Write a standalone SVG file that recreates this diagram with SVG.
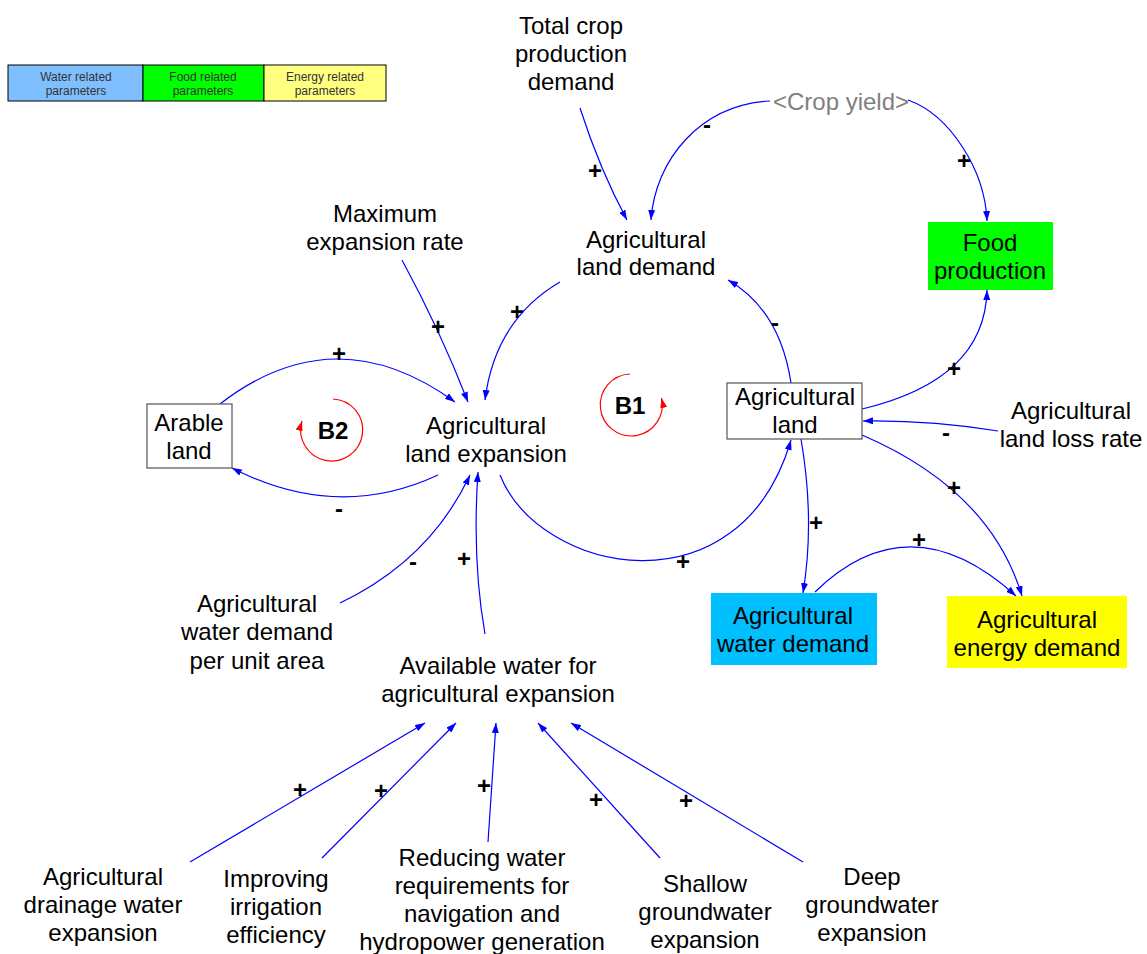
<svg xmlns="http://www.w3.org/2000/svg" width="1147" height="954" viewBox="0 0 1147 954">
<defs>
<marker id="ah" markerUnits="userSpaceOnUse" markerWidth="10" markerHeight="7" refX="10" refY="3.5" orient="auto">
<path d="M0,0 L10,3.5 L0,7 z" fill="#0000ff"/>
</marker>
<marker id="rh" markerUnits="userSpaceOnUse" markerWidth="10" markerHeight="7" refX="10" refY="3.5" orient="auto">
<path d="M0,0 L10,3.5 L0,7 z" fill="#ff0000"/>
</marker>
</defs>
<style>
.t{font-family:"Liberation Sans",Arial,sans-serif;font-size:24px;fill:#000;text-anchor:middle}
.lg{font-family:"Liberation Sans",Arial,sans-serif;font-size:12px;fill:#333;text-anchor:middle}
.s{font-family:"Liberation Sans",Arial,sans-serif;font-size:24px;font-weight:bold;fill:#000;text-anchor:middle}
.b{font-family:"Liberation Sans",Arial,sans-serif;font-size:24px;font-weight:bold;fill:#000;text-anchor:middle}
.c{fill:none;stroke:#0000ff;stroke-width:1.2;marker-end:url(#ah)}
.loop{fill:none;stroke:#ff0000;stroke-width:1.2;marker-end:url(#rh)}
.box{stroke:#555;stroke-width:1.2}
</style>
<rect width="1147" height="954" fill="#fff"/>

<g id="legend">
<rect x="8" y="65" width="135" height="36" fill="#80bfff" stroke="#000" stroke-width="1"/>
<rect x="143" y="65" width="121" height="36" fill="#00ff00" stroke="#000" stroke-width="1"/>
<rect x="264" y="65" width="122" height="36" fill="#ffff80" stroke="#000" stroke-width="1"/>
<text class="lg" x="76" y="81">Water related</text><text class="lg" x="76" y="95">parameters</text>
<text class="lg" x="203" y="81">Food related</text><text class="lg" x="203" y="95">parameters</text>
<text class="lg" x="325" y="81">Energy related</text><text class="lg" x="325" y="95">parameters</text>
</g>

<g id="connectors">
<path class="c" d="M580,108 Q600,170 627,220"/>
<path class="c" d="M770,101 C700,105 655,160 651,220"/>
<path class="c" d="M908,100 C950,115 985,170 987,221"/>
<path class="c" d="M862,409 Q985,380 987,290"/>
<path class="c" d="M791,383 Q780,310 728,280"/>
<path class="c" d="M560,282 Q495,320 485,400"/>
<path class="c" d="M402,260 Q440,330 468,402"/>
<path class="c" d="M220,404 Q335,315 455,402"/>
<path class="c" d="M438,475 Q337,522 232,468"/>
<path class="c" d="M340,603 Q430,560 470,475"/>
<path class="c" d="M485,634 Q472,560 478,472"/>
<path class="c" d="M500,475 C540,575 740,615 791,440"/>
<path class="c" d="M998,431 Q930,420 863,421"/>
<path class="c" d="M801,439 Q815,520 803,593"/>
<path class="c" d="M862,435 Q990,490 1022,596"/>
<path class="c" d="M815,592 Q910,500 1016,596"/>
<path class="c" d="M190,862 L425,723"/>
<path class="c" d="M322,858 L456,723"/>
<path class="c" d="M488,842 L496,723"/>
<path class="c" d="M660,858 L538,723"/>
<path class="c" d="M803,862 L571,723"/>
<text class="s" x="595" y="179">+</text>
<text class="s" x="707" y="133">-</text>
<text class="s" x="964" y="169">+</text>
<text class="s" x="954" y="377">+</text>
<text class="s" x="775" y="331">-</text>
<text class="s" x="517" y="320">+</text>
<text class="s" x="438" y="335">+</text>
<text class="s" x="339" y="362">+</text>
<text class="s" x="339" y="517">-</text>
<text class="s" x="413" y="570">-</text>
<text class="s" x="464" y="567">+</text>
<text class="s" x="683" y="570">+</text>
<text class="s" x="946" y="441">-</text>
<text class="s" x="816" y="531">+</text>
<text class="s" x="954" y="496">+</text>
<text class="s" x="919" y="548">+</text>
<text class="s" x="300" y="798">+</text>
<text class="s" x="381" y="799">+</text>
<text class="s" x="484" y="794">+</text>
<text class="s" x="596" y="808">+</text>
<text class="s" x="686" y="809">+</text>
</g>

<g id="loopB1">
<path class="loop" d="M630,374 A31,31 0 1 0 661.5,398"/>
<text class="b" x="630" y="414">B1</text>
</g>
<g id="loopB2">
<path class="loop" d="M333,399 A31,31 0 1 1 302,421"/>
<text class="b" x="333" y="439">B2</text>
</g>

<g id="total-crop-production-demand">
<text class="t" x="571" y="34">Total crop</text><text class="t" x="571" y="62">production</text><text class="t" x="571" y="90">demand</text>
</g>
<g id="crop-yield">
<text class="t" x="841" y="110" style="fill:#808080">&lt;Crop yield&gt;</text>
</g>
<g id="agricultural-land-demand">
<text class="t" x="646" y="248">Agricultural</text><text class="t" x="646" y="275">land demand</text>
</g>
<g id="food-production">
<rect x="928" y="222" width="125" height="68" fill="#00ff00"/>
<text class="t" x="990" y="251">Food</text><text class="t" x="990" y="279">production</text>
</g>
<g id="maximum-expansion-rate">
<text class="t" x="385" y="222">Maximum</text><text class="t" x="385" y="250">expansion rate</text>
</g>
<g id="arable-land">
<rect class="box" x="147" y="404" width="85" height="64" fill="#fff"/>
<text class="t" x="189" y="431">Arable</text><text class="t" x="189" y="459">land</text>
</g>
<g id="agricultural-land-expansion">
<text class="t" x="486" y="434">Agricultural</text><text class="t" x="486" y="462">land expansion</text>
</g>
<g id="agricultural-land">
<rect class="box" x="727" y="383" width="135" height="56" fill="#fff"/>
<text class="t" x="795" y="405">Agricultural</text><text class="t" x="795" y="433">land</text>
</g>
<g id="agricultural-land-loss-rate">
<text class="t" x="1071" y="419">Agricultural</text><text class="t" x="1071" y="447">land loss rate</text>
</g>
<g id="agricultural-water-demand-per-unit-area">
<text class="t" x="257" y="612">Agricultural</text><text class="t" x="257" y="640">water demand</text><text class="t" x="257" y="669">per unit area</text>
</g>
<g id="available-water">
<text class="t" x="498" y="674">Available water for</text><text class="t" x="498" y="702">agricultural expansion</text>
</g>
<g id="agricultural-water-demand">
<rect x="711" y="593" width="166" height="72" fill="#00bfff"/>
<text class="t" x="793" y="624">Agricultural</text><text class="t" x="793" y="652">water demand</text>
</g>
<g id="agricultural-energy-demand">
<rect x="947" y="596" width="180" height="72" fill="#ffff00"/>
<text class="t" x="1037" y="628">Agricultural</text><text class="t" x="1037" y="656">energy demand</text>
</g>
<g id="agricultural-drainage-water-expansion">
<text class="t" x="103" y="885">Agricultural</text><text class="t" x="103" y="913">drainage water</text><text class="t" x="103" y="941">expansion</text>
</g>
<g id="improving-irrigation-efficiency">
<text class="t" x="276" y="887">Improving</text><text class="t" x="276" y="915">irrigation</text><text class="t" x="276" y="943">efficiency</text>
</g>
<g id="reducing-water-requirements">
<text class="t" x="482" y="866">Reducing water</text><text class="t" x="482" y="894">requirements for</text><text class="t" x="482" y="922">navigation and</text><text class="t" x="482" y="950">hydropower generation</text>
</g>
<g id="shallow-groundwater-expansion">
<text class="t" x="705" y="892">Shallow</text><text class="t" x="705" y="920">groundwater</text><text class="t" x="705" y="948">expansion</text>
</g>
<g id="deep-groundwater-expansion">
<text class="t" x="872" y="885">Deep</text><text class="t" x="872" y="913">groundwater</text><text class="t" x="872" y="941">expansion</text>
</g>
</svg>
